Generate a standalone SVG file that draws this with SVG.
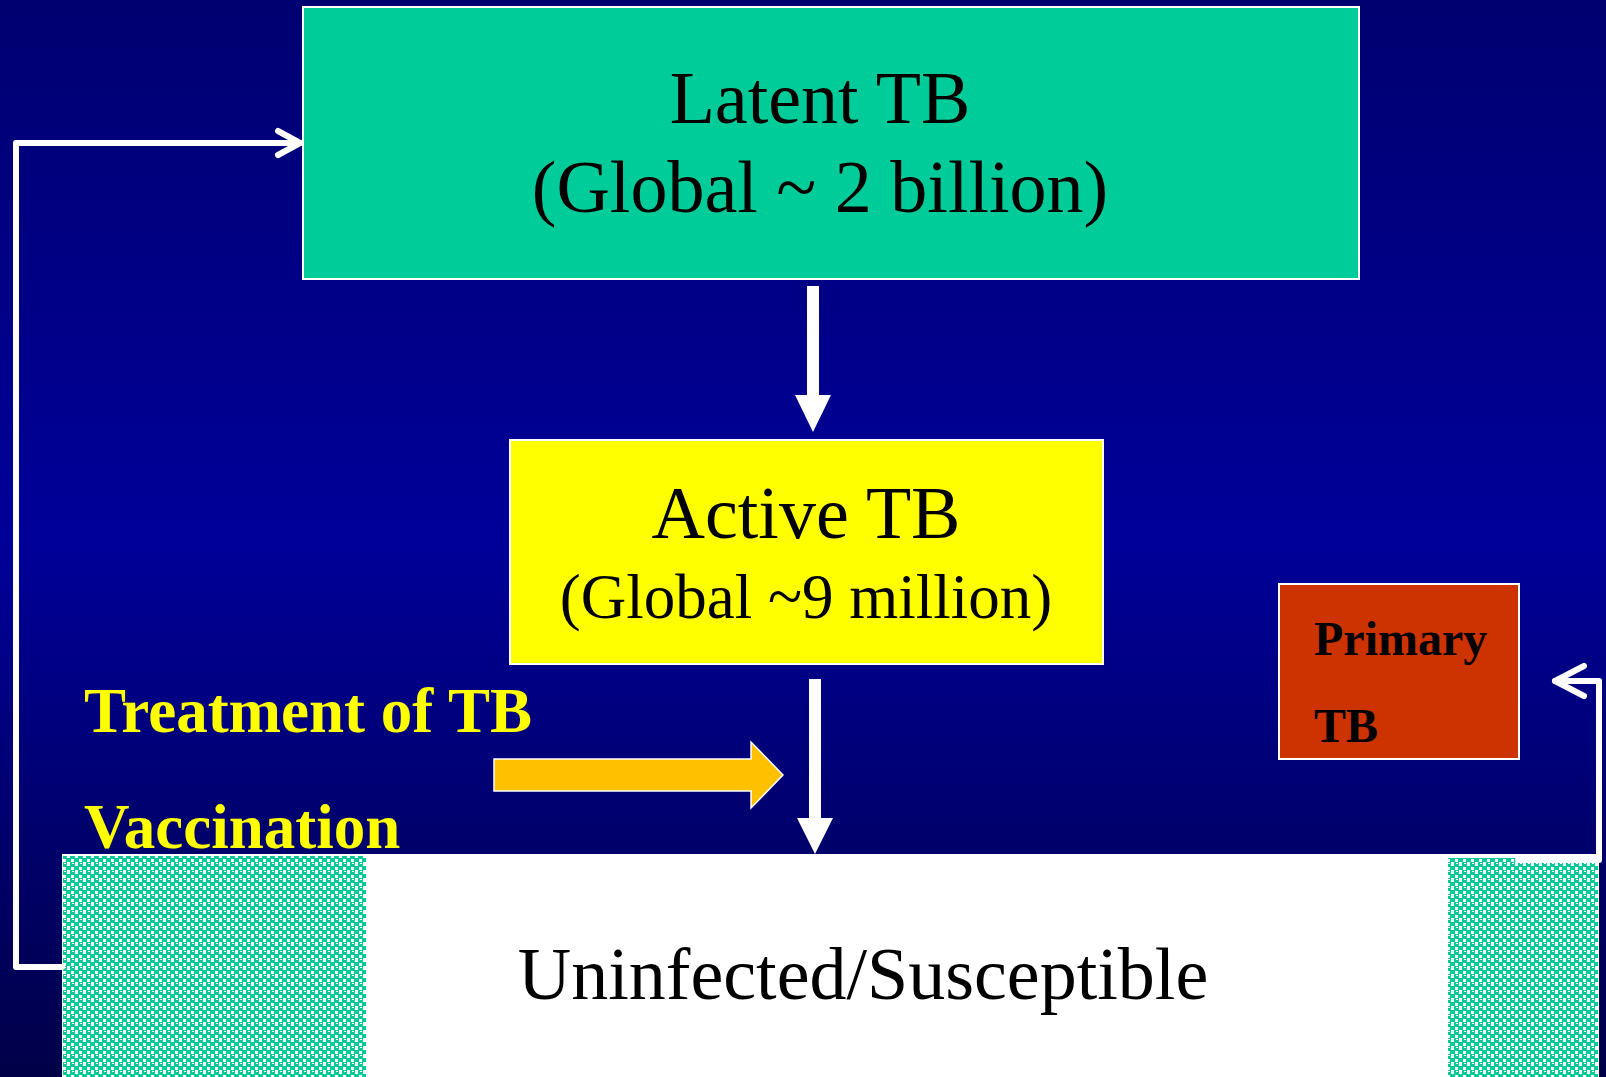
<svg xmlns="http://www.w3.org/2000/svg" width="1606" height="1077" viewBox="0 0 1606 1077">
<defs>
<linearGradient id="bg" x1="0" y1="0" x2="0" y2="1">
<stop offset="0" stop-color="#000070"/>
<stop offset="0.5" stop-color="#000099"/>
<stop offset="1" stop-color="#000048"/>
</linearGradient>
<pattern id="chk" x="62" y="854" width="8" height="8" patternUnits="userSpaceOnUse">
<rect width="8" height="8" fill="#ffffff"/>
<rect x="0" y="0" width="5" height="5" fill="#00CC99"/>
<rect x="4" y="4" width="4" height="4" fill="#00CC99"/>
<rect x="0" y="5" width="1" height="3" fill="#00CC99"/>
<rect x="2" y="1" width="2" height="1" fill="#ffffff"/>
</pattern>
</defs>
<style>
.serif{font-family:"Liberation Serif","Times New Roman",serif;}
.big{font-size:74px;fill:#000;}
.mid{font-size:63px;fill:#000;}
.yl{font-size:63px;font-weight:bold;fill:#FFFF00;}
.pt{font-size:48px;font-weight:bold;fill:#000;}
.wline{fill:none;stroke:#fff;stroke-width:6;stroke-linecap:round;stroke-linejoin:round;}
</style>
<rect width="1606" height="1077" fill="url(#bg)"/>

<g id="uninfected">
<rect x="62" y="854" width="1537" height="223" fill="#fff"/>
<rect x="63" y="856" width="303" height="221" fill="url(#chk)"/>
<rect x="1448" y="858" width="150" height="219" fill="url(#chk)"/>
<text class="serif" x="863" y="999" font-size="74" text-anchor="middle" fill="#000">Uninfected/Susceptible</text>
</g>

<g id="connectors">
<polyline class="wline" points="62,967 16,967 16,143 300,143"/>
<polyline class="wline" points="278,131 300,143 278,155"/>
<polyline class="wline" points="1518,860 1599,860 1599,681 1555,681"/>
<polyline class="wline" points="1584,666 1555,681 1584,696"/>
<rect x="807" y="286" width="12" height="110" fill="#fff"/>
<polygon points="795,395 831,395 813,432" fill="#fff"/>
<rect x="809" y="679" width="12" height="140" fill="#fff"/>
<polygon points="797,818 833,818 815,854" fill="#fff"/>
</g>

<g id="latent">
<rect x="303" y="7" width="1056" height="272" fill="#00CC99" stroke="#fff" stroke-width="2"/>
<text class="serif big" x="820" y="123" text-anchor="middle">Latent TB</text>
<text class="serif big" x="820" y="212" text-anchor="middle">(Global ~ 2 billion)</text>
</g>

<g id="active">
<rect x="510" y="440" width="593" height="224" fill="#FFFF00" stroke="#fff" stroke-width="2"/>
<text class="serif big" x="806" y="538" text-anchor="middle">Active TB</text>
<text class="serif mid" x="806" y="618" text-anchor="middle">(Global ~9 million)</text>
</g>

<g id="primary">
<rect x="1279" y="584" width="240" height="175" fill="#CC3300" stroke="#fff" stroke-width="2"/>
<text class="serif pt" x="1314" y="655">Primary</text>
<text class="serif pt" x="1314" y="742">TB</text>
</g>

<g id="treatment">
<text class="serif yl" x="84" y="732">Treatment of TB</text>
<text class="serif yl" x="84" y="848">Vaccination</text>
<polygon points="494,759 751,759 751,742 783,775 751,808 751,791 494,791" fill="#FFC000" stroke="#fff" stroke-width="1.5"/>
</g>
</svg>
